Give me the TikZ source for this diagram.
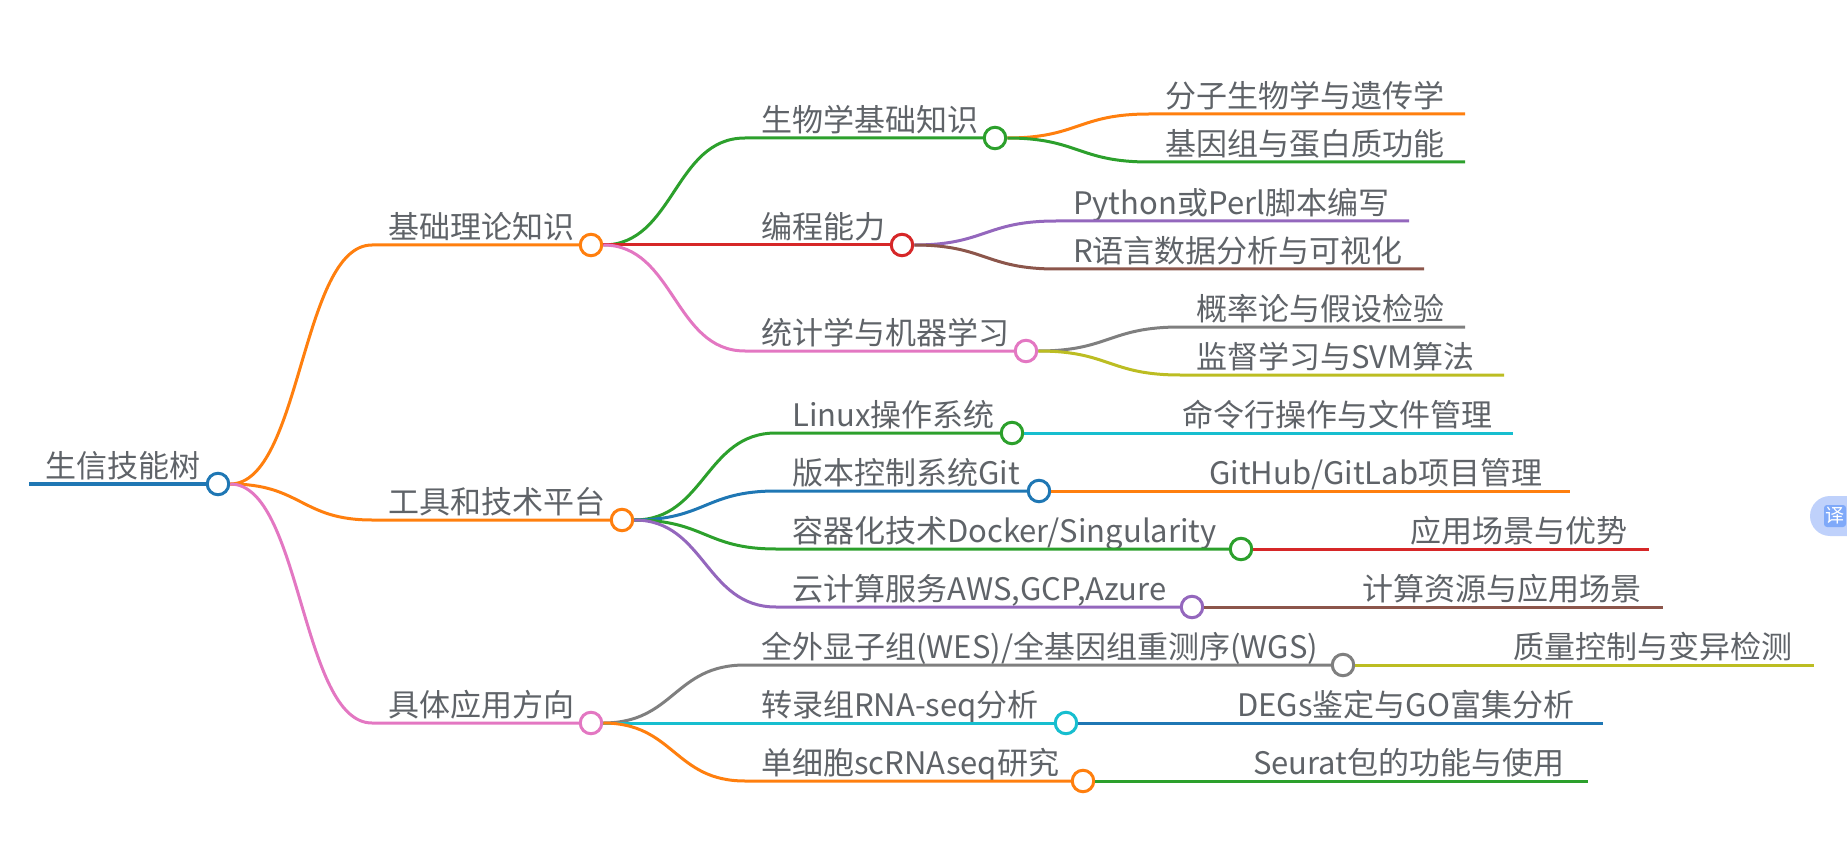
\documentclass[tikz,border=0pt]{standalone}
\usepackage{fontspec}
\setmainfont{Noto Sans CJK SC}
\usetikzlibrary{calc}
\definecolor{ink}{HTML}{5F6368}
\definecolor{cblue}{HTML}{1F77B4}
\definecolor{corange}{HTML}{FF7F0E}
\definecolor{cgreen}{HTML}{2CA02C}
\definecolor{cred}{HTML}{D62728}
\definecolor{cpurple}{HTML}{9467BD}
\definecolor{cbrown}{HTML}{8C564B}
\definecolor{cpink}{HTML}{E377C2}
\definecolor{cgray}{HTML}{7F7F7F}
\definecolor{colive}{HTML}{BCBD22}
\definecolor{ccyan}{HTML}{17BECF}
\definecolor{badgebg}{HTML}{BFD1FB}
\definecolor{badgefg}{HTML}{7FA9F9}
\tikzset{
  label/.style={anchor=base west,inner sep=0pt,xshift=-1pt,yshift=-2.5pt,text=ink,font=\fontsize{31}{36}\selectfont},
  dot/.style={circle,draw=#1,fill=white,line width=3pt,minimum size=21.5pt,inner sep=0pt},
  limb/.style={draw=#1,line width=3pt},
  bend/.style={out=0,in=180,distance=#1}
}
\begin{document}
\begin{tikzpicture}[x=1pt,y=-1pt]
\useasboundingbox (0,0) rectangle (1847,850);
% centre
\node[dot=cblue] (root) at (218,484) {};
\coordinate (rootstart) at (29,484);
\node[label] at (46,475) (rootlabel) {生信技能树};
\draw[limb=cblue,line width=4pt] (rootstart) -- (root.west);
% first level
\node[dot=corange] (theory) at (591,245) {};
\node[dot=corange] (tools) at (622,520) {};
\node[dot=cpink] (apply) at (591,723) {};
\coordinate (theoryin) at (372,245);
\coordinate (toolsin) at (372,520);
\coordinate (applyin) at (372,723);
\node[label] at (389,236) (theorylabel) {基础理论知识};
\node[label] at (389,511) (toolslabel) {工具和技术平台};
\node[label] at (389,714) (applylabel) {具体应用方向};
\draw[limb=corange] (root.east) to[bend=71pt] (theoryin) -- (theory.west);
\draw[limb=corange] (root.east) to[bend=71pt] (toolsin) -- (tools.west);
\draw[limb=cpink] (root.east) to[bend=71pt] (applyin) -- (apply.west);
% theory
\node[dot=cgreen] (bio) at (995,138) {};
\node[dot=cred] (prog) at (902,245) {};
\node[dot=cpink] (stat) at (1026,351) {};
\coordinate (bioin) at (745,138);
\coordinate (progin) at (745,245);
\coordinate (statin) at (745,351);
\node[label] at (762,129) (biolabel) {生物学基础知识};
\node[label] at (762,236) (proglabel) {编程能力};
\node[label] at (762,342) (statlabel) {统计学与机器学习};
\draw[limb=cgreen] (theory.east) to[bend=71pt] (bioin) -- (bio.west);
\draw[limb=cred] (theory.east) to[bend=71pt] (progin) -- (prog.west);
\draw[limb=cpink] (theory.east) to[bend=71pt] (statin) -- (stat.west);
% tools
\node[dot=cgreen] (linux) at (1012,433) {};
\node[dot=cblue] (git) at (1039,491) {};
\node[dot=cgreen] (docker) at (1241,549) {};
\node[dot=cpurple] (cloud) at (1192,607) {};
\coordinate (linuxin) at (776,433);
\coordinate (gitin) at (776,491);
\coordinate (dockerin) at (776,549);
\coordinate (cloudin) at (776,607);
\node[label] at (793,424) (linuxlabel) {Linux操作系统};
\node[label] at (793,482) (gitlabel) {版本控制系统Git};
\node[label] at (793,540) (dockerlabel) {容器化技术Docker/Singularity};
\node[label] at (793,598) (cloudlabel) {云计算服务AWS,GCP,Azure};
\draw[limb=cgreen] (tools.east) to[bend=71pt] (linuxin) -- (linux.west);
\draw[limb=cblue] (tools.east) to[bend=71pt] (gitin) -- (git.west);
\draw[limb=cgreen] (tools.east) to[bend=71pt] (dockerin) -- (docker.west);
\draw[limb=cpurple] (tools.east) to[bend=71pt] (cloudin) -- (cloud.west);
% application
\node[dot=cgray] (wes) at (1343,665) {};
\node[dot=ccyan] (rna) at (1066,723) {};
\node[dot=corange] (single) at (1083,781) {};
\coordinate (wesin) at (745,665);
\coordinate (rnain) at (745,723);
\coordinate (singlein) at (745,781);
\node[label] at (762,656) (weslabel) {全外显子组(WES)/全基因组重测序(WGS)};
\node[label] at (762,714) (rnalabel) {转录组RNA-seq分析};
\node[label] at (762,772) (singlelabel) {单细胞scRNAseq研究};
\draw[limb=cgray] (apply.east) to[bend=71pt] (wesin) -- (wes.west);
\draw[limb=ccyan] (apply.east) to[bend=71pt] (rnain) -- (rna.west);
\draw[limb=corange] (apply.east) to[bend=71pt] (singlein) -- (single.west);
% leaves with a fork
\coordinate (molecin) at (1149,114);
\coordinate (molecend) at (1465,114);
\coordinate (genomein) at (1149,162);
\coordinate (genomeend) at (1465,162);
\coordinate (pythonin) at (1056,221);
\coordinate (pythonend) at (1409,221);
\coordinate (rlangin) at (1056,269);
\coordinate (rlangend) at (1424,269);
\coordinate (probin) at (1180,327);
\coordinate (probend) at (1465,327);
\coordinate (svmin) at (1180,375);
\coordinate (svmend) at (1504,375);
\node[label] at (1166,105) (moleclabel) {分子生物学与遗传学};
\node[label] at (1166,153) (genomelabel) {基因组与蛋白质功能};
\node[label] at (1074,212) (pythonlabel) {Python或Perl脚本编写};
\node[label] at (1074,260) (rlanglabel) {R语言数据分析与可视化};
\node[label] at (1197,318) (problabel) {概率论与假设检验};
\node[label] at (1197,366) (svmlabel) {监督学习与SVM算法};
\draw[limb=corange] (bio.east) to[bend=71pt] (molecin) -- (molecend);
\draw[limb=cgreen] (bio.east) to[bend=71pt] (genomein) -- (genomeend);
\draw[limb=cpurple] (prog.east) to[bend=71pt] (pythonin) -- (pythonend);
\draw[limb=cbrown] (prog.east) to[bend=71pt] (rlangin) -- (rlangend);
\draw[limb=cgray] (stat.east) to[bend=71pt] (probin) -- (probend);
\draw[limb=colive] (stat.east) to[bend=71pt] (svmin) -- (svmend);
% single leaves
\coordinate (shellend) at (1513,433);
\coordinate (githubend) at (1570,491);
\coordinate (sceneend) at (1649,549);
\coordinate (computeend) at (1663,607);
\coordinate (qualityend) at (1814,665);
\coordinate (degend) at (1603,723);
\coordinate (seuratend) at (1588,781);
\node[label] at (1183,424) (shelllabel) {命令行操作与文件管理};
\node[label] at (1210,482) (githublabel) {GitHub/GitLab项目管理};
\node[label] at (1411,540) (scenelabel) {应用场景与优势};
\node[label] at (1363,598) (computelabel) {计算资源与应用场景};
\node[label] at (1514,656) (qualitylabel) {质量控制与变异检测};
\node[label] at (1238,714) (deglabel) {DEGs鉴定与GO富集分析};
\node[label] at (1254,772) (seuratlabel) {Seurat包的功能与使用};
\draw[limb=ccyan] (linux.east) -- (shellend);
\draw[limb=corange] (git.east) -- (githubend);
\draw[limb=cred] (docker.east) -- (sceneend);
\draw[limb=cbrown] (cloud.east) -- (computeend);
\draw[limb=colive] (wes.east) -- (qualityend);
\draw[limb=cblue] (rna.east) -- (degend);
\draw[limb=cgreen] (single.east) -- (seuratend);
% translate badge
\fill[badgebg,rounded corners=20pt] (1810,496) rectangle (1867,536);
\node[fill=badgefg,text=white,rounded corners=3pt,minimum size=22pt,inner sep=0pt,font=\fontsize{19}{19}\selectfont] (badge) at (1835,516) {译};
\end{tikzpicture}
\end{document}
